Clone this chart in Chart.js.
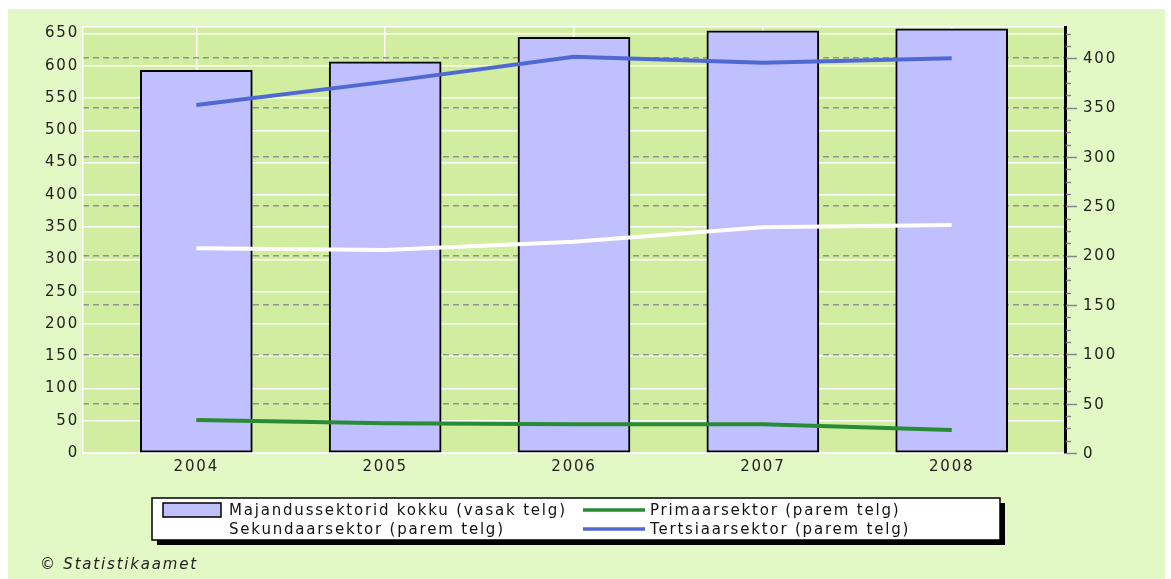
<!DOCTYPE html>
<html>
<head>
<meta charset="utf-8">
<script src="https://cdn.jsdelivr.net/npm/chart.js@4.4.0/dist/chart.umd.min.js"></script>
<style>
  html, body { margin: 0; padding: 0; background: #fff; }
  #wrap { width: 1171px; height: 579px; }
</style>
</head>
<body>
<div id="wrap"><canvas id="chart" width="1171" height="579"></canvas></div>
<script>
// values
const years = ['2004', '2005', '2006', '2007', '2008'];
const totalSectors = [593, 606, 644, 654, 657];      // left axis
const primarySector = [33.4, 30.1, 29.1, 29.1, 23.3];  // right axis
const secondarySector = [207.4, 205.7, 214, 228.7, 231];
const tertiarySector = [352.6, 376, 401.5, 395.4, 400];

const leftTicks = [0, 50, 100, 150, 200, 250, 300, 350, 400, 450, 500, 550, 600, 650];
const rightMajor = [0, 50, 100, 150, 200, 250, 300, 350, 400];

const labelTotal = 'Majandussektorid kokku (vasak telg)';
const labelPrimary = 'Primaarsektor (parem telg)';
const labelSecondary = 'Sekundaarsektor (parem telg)';
const labelTertiary = 'Tertsiaarsektor (parem telg)';

const FONT = 'DejaVu Sans';
const SPACING = '1.8px';
Chart.defaults.font.family = FONT;
Chart.defaults.font.size = 15;
Chart.defaults.color = '#222';

const toPoints = arr => arr.map((v, i) => ({ x: i, y: v }));

// background, plot area, letter spacing
const backdrop = {
  id: 'backdrop',
  beforeDraw(chart) {
    const ctx = chart.ctx, a = chart.chartArea;
    ctx.letterSpacing = SPACING;
    ctx.save();
    ctx.fillStyle = '#fff';
    ctx.fillRect(0, 0, chart.width, chart.height);
    ctx.fillStyle = '#e2f8c5';
    ctx.fillRect(8, 9, chart.width - 14, chart.height - 9);
    ctx.fillStyle = '#d1eda0';
    ctx.fillRect(a.left, a.top, a.right - a.left, a.bottom - a.top);
    ctx.restore();
  }
};

// right axis: tick marks (major every 50, minor every 12.5) and labels
const rightAxis = {
  id: 'rightAxis',
  afterDraw(chart) {
    const ctx = chart.ctx, s = chart.scales.y1;
    ctx.save();
    ctx.strokeStyle = '#888';
    ctx.lineWidth = 1.5;
    for (let v = 0; v <= s.max; v += 12.5) {
      const y = Math.round(s.getPixelForValue(v)) + 0.5;
      const len = v % 50 === 0 ? 11 : 5;
      ctx.beginPath();
      ctx.moveTo(s.left + 1, y);
      ctx.lineTo(s.left + 1 + len, y);
      ctx.stroke();
    }
    ctx.letterSpacing = SPACING;
    ctx.font = '15px "' + FONT + '"';
    ctx.fillStyle = '#222';
    ctx.textAlign = 'left';
    ctx.textBaseline = 'middle';
    s.ticks.forEach(t => {
      ctx.fillText(String(t.value), s.left + 18, s.getPixelForValue(t.value) + 1);
    });
    ctx.restore();
  }
};

// boxed legend with shadow + source note
const boxLegend = {
  id: 'boxLegend',
  afterDraw(chart) {
    const ctx = chart.ctx;
    ctx.save();
    ctx.letterSpacing = SPACING;
    ctx.fillStyle = '#000';
    ctx.fillRect(157, 503, 848, 42);
    ctx.fillStyle = '#fff';
    ctx.fillRect(152, 498, 848, 42);
    ctx.strokeStyle = '#000';
    ctx.lineWidth = 1.5;
    ctx.strokeRect(152, 498, 848, 42);

    const cols = [163, 583];
    const rows = [510, 529];
    ctx.font = '15px "' + FONT + '"';
    ctx.textBaseline = 'middle';
    chart.data.datasets.forEach((ds, i) => {
      const col = cols[i % 2], row = rows[Math.floor(i / 2)];
      if (ds.type === 'bar') {
        ctx.fillStyle = ds.backgroundColor;
        ctx.fillRect(col, row - 7, 58, 14);
        ctx.strokeStyle = '#000';
        ctx.lineWidth = 1.5;
        ctx.strokeRect(col, row - 7, 58, 14);
      } else {
        ctx.strokeStyle = ds.borderColor;
        ctx.lineWidth = 3.5;
        ctx.beginPath();
        ctx.moveTo(col, row);
        ctx.lineTo(col + 62, row);
        ctx.stroke();
      }
      ctx.fillStyle = '#111';
      ctx.fillText(ds.label, i % 2 === 0 ? 229 : 650, row + 1);
    });

    ctx.font = 'italic 15px "' + FONT + '"';
    ctx.fillStyle = '#222';
    ctx.fillText('\u00a9 Statistikaamet', 40, 565);
    ctx.restore();
  }
};

new Chart(document.getElementById('chart'), {
  data: {
    datasets: [
      {
        type: 'bar',
        label: labelTotal,
        data: toPoints(totalSectors),
        backgroundColor: '#c0c0ff',
        borderColor: '#000',
        borderWidth: 2,
        borderSkipped: false,
        barThickness: 112,
        yAxisID: 'y',
        order: 2
      },
      {
        type: 'line',
        label: labelPrimary,
        data: toPoints(primarySector),
        borderColor: '#2a8b35',
        borderWidth: 4,
        pointRadius: 0,
        yAxisID: 'y1',
        order: 1
      },
      {
        type: 'line',
        label: labelSecondary,
        data: toPoints(secondarySector),
        borderColor: '#ffffff',
        borderWidth: 4,
        pointRadius: 0,
        yAxisID: 'y1',
        order: 1
      },
      {
        type: 'line',
        label: labelTertiary,
        data: toPoints(tertiarySector),
        borderColor: '#5068d2',
        borderWidth: 4,
        pointRadius: 0,
        yAxisID: 'y1',
        order: 1
      }
    ]
  },
  options: {
    responsive: false,
    animation: false,
    devicePixelRatio: 1,
    layout: { padding: { top: 27, left: 0, right: 0, bottom: 0 } },
    plugins: {
      legend: { display: false },
      tooltip: { enabled: false }
    },
    scales: {
      x: {
        type: 'linear',
        min: -0.6,
        max: 4.6,
        offset: false,
        afterBuildTicks: s => { s.ticks = years.map((y, i) => ({ value: i })); },
        afterFit: s => { s.height = 126; },
        ticks: { padding: 5, autoSkip: false, callback: v => years[v] },
        grid: { offset: false, color: '#fff', lineWidth: 1.5, drawTicks: false },
        border: { color: '#fff', width: 1.5 }
      },
      y: {
        position: 'left',
        min: 0,
        max: 660,
        afterBuildTicks: s => { s.ticks = leftTicks.concat([660]).map(v => ({ value: v })); },
        afterFit: s => { s.width = 83; s.paddingTop = 0; s.paddingBottom = 0; },
        ticks: { padding: 4, autoSkip: false, callback: v => (leftTicks.includes(v) ? v : '') },
        grid: { color: '#fff', lineWidth: 1.5, drawTicks: false },
        border: { color: '#fff', width: 1.5 }
      },
      y1: {
        position: 'right',
        min: 0,
        max: 431.6,
        afterBuildTicks: s => { s.ticks = rightMajor.map(v => ({ value: v })); },
        afterFit: s => { s.width = 106; s.paddingTop = 0; s.paddingBottom = 0; },
        ticks: { display: false },
        grid: {
          drawTicks: false,
          lineWidth: 1.5,
          color: ctx => (ctx.tick && ctx.tick.value > 0) ? '#929292' : 'rgba(0,0,0,0)'
        },
        border: { color: '#000', width: 3, dash: [6, 4] }
      }
    }
  },
  plugins: [backdrop, rightAxis, boxLegend]
});
</script>
</body>
</html>
